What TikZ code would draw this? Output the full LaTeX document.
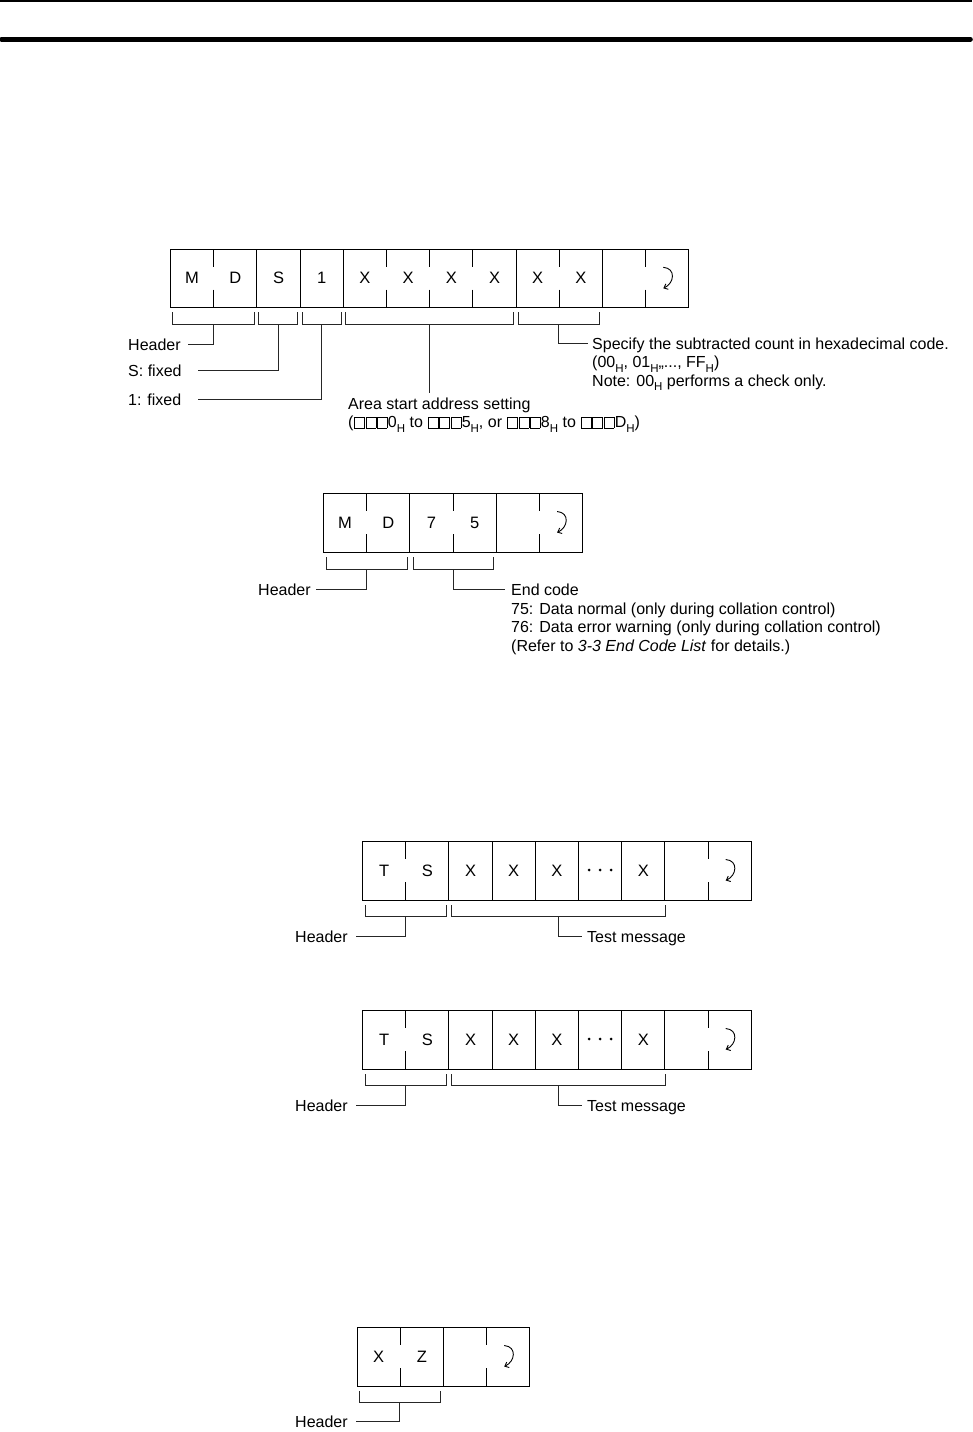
\documentclass[tikz,border=0pt]{standalone}
\usepackage{fontspec}
\setmainfont{Liberation Sans}
\usetikzlibrary{arrows.meta}
\newcommand\Hs{\raisebox{-0.3em}{\fontsize{11.5}{11.5}\selectfont H}}
\newcommand\bxx{{\setlength{\fboxsep}{0pt}\setlength{\fboxrule}{0.5pt}\fbox{\rule{0pt}{10.5pt}\rule{9.5pt}{0pt}}}}
\newcommand\bx{\kern0.8pt\bxx\kern0.8pt\bxx\kern0.8pt\bxx\kern0.5pt}
\newcommand\ssep[3]{\draw[box] (#1,#2)--(#1,#2+18) (#1,#3-18)--(#1,#3);}
\newcommand\fsep[3]{\draw[box] (#1,#2)--(#1,#3);}
\newcommand\brk[5]{\draw[brk] (#1,#3)--(#1,#4)--(#2,#4)--(#2,#3); \coordinate (#5) at ({(#1+#2)/2},#4);}
\newcommand\retarrow[2]{\draw[line width=0.9pt,-{Straight Barb[length=3.5pt,width=6pt]}] (#1-4,#2-11) .. controls (#1+9,#2-10) and (#1+7,#2+5) .. (#1-4,#2+10);}
\newcommand\threedots[2]{\fill (#1-11,#2) circle (1.5) (#1,#2) circle (1.5) (#1+11,#2) circle (1.5);}
\begin{document}
\begin{tikzpicture}[x=1pt,y=-1pt,
  box/.style={line width=0.9pt},
  brk/.style={line width=0.8pt,black!85},
  lbl/.style={anchor=base west,inner sep=0pt,text height=11.5pt,text depth=0pt,font=\fontsize{16}{18.5}\selectfont},
  ch/.style={inner sep=0pt,font=\fontsize{16.5}{16.5}\selectfont}]
\useasboundingbox (0,0) rectangle (972,1432);
\draw[line width=2pt] (0,1)--(972,1);
\draw[line width=4.6pt,line cap=round] (1.5,39.3)--(970.5,39.3);

% ---------- Frame 1 ----------
\draw[box] (170.5,249) rectangle (688.9,307.5);
\foreach \x in {213.7,386.5,429.7,472.9,559.3,645.7} {\ssep{\x}{249}{307.5}}
\foreach \x in {256.9,300.1,343.3,516.1,602.5} {\fsep{\x}{249}{307.5}}
\node[ch] (c1) at (192.1,278.3) {M};
\node[ch] (c2) at (235.3,278.3) {D};
\node[ch] (c3) at (278.5,278.3) {S};
\node[ch] (c4) at (321.7,278.3) {1};
\node[ch] (c5) at (364.9,278.3) {X};
\node[ch] (c6) at (408.1,278.3) {X};
\node[ch] (c7) at (451.3,278.3) {X};
\node[ch] (c8) at (494.5,278.3) {X};
\node[ch] (c9) at (537.7,278.3) {X};
\node[ch] (c10) at (580.9,278.3) {X};
\retarrow{667.3}{278.3}
\brk{172.5}{254.5}{312}{324}{b1}
\brk{258.5}{297.5}{312}{324}{b2}
\brk{302}{341}{312}{324}{b3}
\brk{345.5}{513.5}{312}{324}{b4}
\brk{518.5}{599}{312}{324}{b5}
\node[lbl] (h1) at (128,350) {Header};
\node[lbl] (s1) at (128,376) {S: fixed};
\node[lbl] (o1) at (128,405) {1: fixed};
\node[lbl] (a1) at (348,409) {Area start address setting};
\node[lbl] (a2) at (348,427.5) {(\bx0\Hs{} to \bx5\Hs, or \bx8\Hs{} to \bx D\Hs)};
\node[lbl] (p1) at (592,349) {Specify the subtracted count in hexadecimal code.};
\node[lbl] (p2) at (592,367.5) {(00\Hs, 01\Hs,,..., FF\Hs)};
\node[lbl] (p3) at (592,386) {Note: 00\Hs{} performs a check only.};
\draw[brk] (b1) |- ([xshift=7pt]h1.east);
\draw[brk] (b2) |- ([xshift=16pt]s1.east);
\draw[brk] (b3) |- ([xshift=17pt]o1.east);
\draw[brk] (b4) -- ([yshift=4pt]b4|-a1.north);
\draw[brk] (b5) |- ([xshift=-4pt]p1.west);

% ---------- Frame 2 ----------
\draw[box] (323.5,493) rectangle (582.7,552);
\foreach \x in {366.7,453.1,539.5} {\ssep{\x}{493}{552}}
\foreach \x in {409.9,496.3} {\fsep{\x}{493}{552}}
\node[ch] (d1) at (345.1,522.5) {M};
\node[ch] (d2) at (388.3,522.5) {D};
\node[ch] (d3) at (431.5,522.5) {7};
\node[ch] (d4) at (474.7,522.5) {5};
\retarrow{561.1}{522.5}
\brk{326}{407.5}{557}{569}{e1}
\brk{413}{493.5}{557}{569}{e2}
\node[lbl] (h2) at (258,595) {Header};
\node[lbl] (q1) at (511,595.5) {End code};
\node[lbl] (q2) at (511,614) {75: Data normal (only during collation control)};
\node[lbl] (q3) at (511,632.5) {76: Data error warning (only during collation control)};
\node[lbl] (q4) at (511,651) {(Refer to \textit{3-3 End Code List} for details.)};
\draw[brk] (e1) |- ([xshift=5pt]h2.east);
\draw[brk] (e2) |- ([xshift=-6pt]q1.west);

% ---------- Frame 3 ----------
\draw[box] (362.5,841) rectangle (751.3,900);
\foreach \x in {405.7,708.1} {\ssep{\x}{841}{900}}
\foreach \x in {448.9,492.1,535.3,578.5,621.7,664.9} {\fsep{\x}{841}{900}}
\node[ch] (t1) at (384.1,870.5) {T};
\node[ch] (t2) at (427.3,870.5) {S};
\node[ch] (t3) at (470.5,870.5) {X};
\node[ch] (t4) at (513.7,870.5) {X};
\node[ch] (t5) at (556.9,870.5) {X};
\threedots{600.1}{870}
\node[ch] (t7) at (643.3,870.5) {X};
\retarrow{729.7}{870.5}
\brk{365}{446}{905}{916}{f1}
\brk{451.5}{665}{905}{916}{f2}
\node[lbl] (h3) at (295,942.5) {Header};
\node[lbl] (m3) at (587,942) {Test message};
\draw[brk] (f1) |- ([xshift=8pt]h3.east);
\draw[brk] (f2) |- ([xshift=-5pt]m3.west);

% ---------- Frame 4 ----------
\draw[box] (362.5,1010) rectangle (751.3,1069);
\foreach \x in {405.7,708.1} {\ssep{\x}{1010}{1069}}
\foreach \x in {448.9,492.1,535.3,578.5,621.7,664.9} {\fsep{\x}{1010}{1069}}
\node[ch] (u1) at (384.1,1039.5) {T};
\node[ch] (u2) at (427.3,1039.5) {S};
\node[ch] (u3) at (470.5,1039.5) {X};
\node[ch] (u4) at (513.7,1039.5) {X};
\node[ch] (u5) at (556.9,1039.5) {X};
\threedots{600.1}{1039}
\node[ch] (u7) at (643.3,1039.5) {X};
\retarrow{729.7}{1039.5}
\brk{365}{446}{1074}{1085}{g1}
\brk{451.5}{665}{1074}{1085}{g2}
\node[lbl] (h4) at (295,1111.5) {Header};
\node[lbl] (m4) at (587,1111) {Test message};
\draw[brk] (g1) |- ([xshift=8pt]h4.east);
\draw[brk] (g2) |- ([xshift=-5pt]m4.west);

% ---------- Frame 5 ----------
\draw[box] (357,1327) rectangle (529.8,1386);
\foreach \x in {400.2,486.6} {\ssep{\x}{1327}{1386}}
\fsep{443.4}{1327}{1386}
\node[ch] (v1) at (378.6,1356.5) {X};
\node[ch] (v2) at (421.8,1356.5) {Z};
\retarrow{508.2}{1356.5}
\brk{359}{440.5}{1391}{1402}{k1}
\node[lbl] (h5) at (295,1427.5) {Header};
\draw[brk] (k1) |- ([xshift=8pt]h5.east);
\end{tikzpicture}
\end{document}
